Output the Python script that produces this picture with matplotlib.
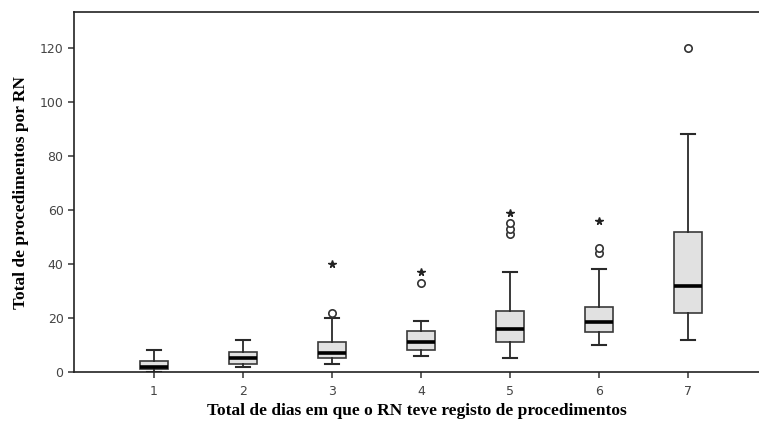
import matplotlib
matplotlib.use("Agg")
import matplotlib.pyplot as plt

# dias com registo (1..7) e resumo dos boxplots do total de procedimentos
dias = [1, 2, 3, 4, 5, 6, 7]
minimo = [0, 2, 3, 6, 5, 10, 12]
q1 = [1, 3, 5, 8, 11, 14.7, 22]
mediana = [2, 5, 7, 11, 16, 18.6, 32]
q3 = [4, 7.5, 11, 15, 22.5, 24, 52]
maximo = [8, 12, 20, 19, 37, 38, 88]

# outliers (o) e extremos (*)
outliers = [[], [], [22], [33], [51, 53, 55], [44, 46], [120]]
extremos = [[], [], [40], [37], [59], [56], []]

stats = []
for i in range(len(dias)):
    stats.append({"med": mediana[i], "q1": q1[i], "q3": q3[i],
                  "whislo": minimo[i], "whishi": maximo[i], "fliers": []})

fig = plt.figure(figsize=(7.59, 4.23), dpi=100)
ax = fig.add_axes([74 / 759, 1 - 372 / 423, 1 - 74 / 759, 360 / 423])

ax.bxp(stats, positions=dias, widths=0.31, patch_artist=True, showfliers=False,
       boxprops=dict(facecolor="#e1e1e1", edgecolor="#3a3a3a", linewidth=1.2),
       medianprops=dict(color="black", linewidth=2.6),
       whiskerprops=dict(color="#2a2a2a", linewidth=1.3),
       capprops=dict(color="#2a2a2a", linewidth=1.5),
       capwidths=0.16)

for d, vals in zip(dias, outliers):
    if vals:
        ax.plot([d] * len(vals), vals, linestyle="none", marker="o", markersize=5.3,
                markerfacecolor="white", markeredgecolor="#333333", markeredgewidth=1.2)
for d, vals in zip(dias, extremos):
    if vals:
        ax.plot([d] * len(vals), vals, linestyle="none", marker="*", markersize=5.5,
                color="#222222")

ax.set_xlim(0.1, 7.8)
ax.set_ylim(0, 133.3)
ax.set_yticks([0, 20, 40, 60, 80, 100, 120])
ax.set_xticks(dias)
ax.spines["right"].set_visible(False)
for s in ["left", "bottom", "top"]:
    ax.spines[s].set_color("#222222")
    ax.spines[s].set_linewidth(1.2)
ax.tick_params(axis="both", length=4, width=1.1, color="#333333",
               labelsize=9, labelcolor="#444444")
ax.tick_params(axis="x", pad=5)

ax.set_ylabel("Total de procedimentos por RN", family="Liberation Serif",
              fontweight="bold", fontsize=12.5, labelpad=8)
ax.set_xlabel("Total de dias em que o RN teve registo de procedimentos",
              family="Liberation Serif", fontweight="bold", fontsize=12.5, labelpad=4)

fig.savefig("out.png", dpi=100)
